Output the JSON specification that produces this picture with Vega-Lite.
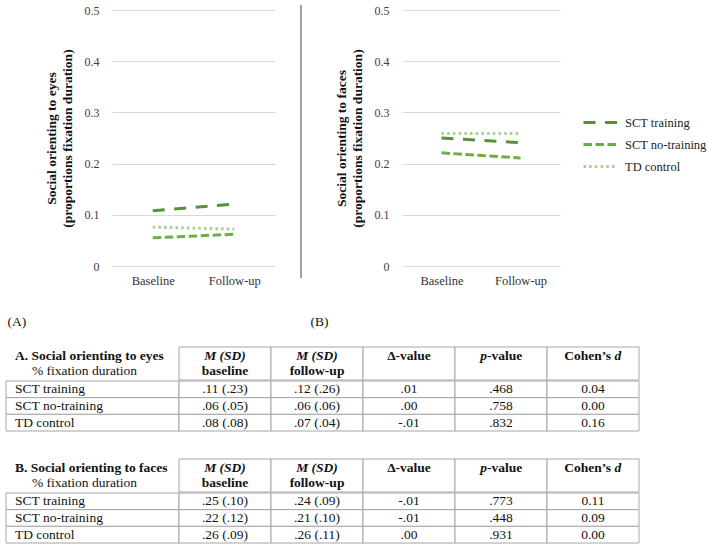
{
  "$schema": "https://vega.github.io/schema/vega-lite/v6.json",
  "padding": {"left": 5, "top": 4, "right": 0, "bottom": 0},
  "background": "white",
  "config": {
    "view": {"stroke": null},
    "font": "Liberation Serif",
    "text": {"font": "Liberation Serif", "fontSize": 13.5, "color": "#111"},
    "axis": {"labelFont": "Liberation Serif", "titleFont": "Liberation Serif"},
    "legend": {"labelFont": "Liberation Serif"}
  },
  "datasets": {
    "lines": [
      {"panel": "eyes", "group": "SCT training", "time": "Baseline", "value": 0.108},
      {"panel": "eyes", "group": "SCT training", "time": "Follow-up", "value": 0.121},
      {"panel": "eyes", "group": "SCT no-training", "time": "Baseline", "value": 0.055},
      {"panel": "eyes", "group": "SCT no-training", "time": "Follow-up", "value": 0.062},
      {"panel": "eyes", "group": "TD control", "time": "Baseline", "value": 0.076},
      {"panel": "eyes", "group": "TD control", "time": "Follow-up", "value": 0.072},
      {"panel": "faces", "group": "SCT training", "time": "Baseline", "value": 0.25},
      {"panel": "faces", "group": "SCT training", "time": "Follow-up", "value": 0.241},
      {"panel": "faces", "group": "SCT no-training", "time": "Baseline", "value": 0.221},
      {"panel": "faces", "group": "SCT no-training", "time": "Follow-up", "value": 0.211},
      {"panel": "faces", "group": "TD control", "time": "Baseline", "value": 0.259},
      {"panel": "faces", "group": "TD control", "time": "Follow-up", "value": 0.259}
    ],
    "hdrLab": [
      {"tbl": "A", "line": "1", "t": "A. Social orienting to eyes"},
      {"tbl": "A", "line": "2", "t": "% fixation duration"},
      {"tbl": "B", "line": "1", "t": "B. Social orienting to faces"},
      {"tbl": "B", "line": "2", "t": "% fixation duration"}
    ],
    "hdr": [
      {"col": "bl", "line": "1", "kind": "it", "a": "M (SD)", "b": ""},
      {"col": "bl", "line": "2", "kind": "b", "a": "baseline", "b": ""},
      {"col": "fu", "line": "1", "kind": "it", "a": "M (SD)", "b": ""},
      {"col": "fu", "line": "2", "kind": "b", "a": "follow-up", "b": ""},
      {"col": "dv", "line": "1", "kind": "b", "a": "Δ-value", "b": ""},
      {"col": "pv", "line": "1", "kind": "pv", "a": "p", "b": "-value"},
      {"col": "cd", "line": "1", "kind": "cd", "a": "Cohen’s", "b": "d"}
    ],
    "cells": [
      {"tbl": "A", "row": "SCT training", "col": "bl", "v": ".11 (.23)"},
      {"tbl": "A", "row": "SCT training", "col": "fu", "v": ".12 (.26)"},
      {"tbl": "A", "row": "SCT training", "col": "dv", "v": ".01"},
      {"tbl": "A", "row": "SCT training", "col": "pv", "v": ".468"},
      {"tbl": "A", "row": "SCT training", "col": "cd", "v": "0.04"},
      {"tbl": "A", "row": "SCT no-training", "col": "bl", "v": ".06 (.05)"},
      {"tbl": "A", "row": "SCT no-training", "col": "fu", "v": ".06 (.06)"},
      {"tbl": "A", "row": "SCT no-training", "col": "dv", "v": ".00"},
      {"tbl": "A", "row": "SCT no-training", "col": "pv", "v": ".758"},
      {"tbl": "A", "row": "SCT no-training", "col": "cd", "v": "0.00"},
      {"tbl": "A", "row": "TD control", "col": "bl", "v": ".08 (.08)"},
      {"tbl": "A", "row": "TD control", "col": "fu", "v": ".07 (.04)"},
      {"tbl": "A", "row": "TD control", "col": "dv", "v": "-.01"},
      {"tbl": "A", "row": "TD control", "col": "pv", "v": ".832"},
      {"tbl": "A", "row": "TD control", "col": "cd", "v": "0.16"},
      {"tbl": "B", "row": "SCT training", "col": "bl", "v": ".25 (.10)"},
      {"tbl": "B", "row": "SCT training", "col": "fu", "v": ".24 (.09)"},
      {"tbl": "B", "row": "SCT training", "col": "dv", "v": "-.01"},
      {"tbl": "B", "row": "SCT training", "col": "pv", "v": ".773"},
      {"tbl": "B", "row": "SCT training", "col": "cd", "v": "0.11"},
      {"tbl": "B", "row": "SCT no-training", "col": "bl", "v": ".22 (.12)"},
      {"tbl": "B", "row": "SCT no-training", "col": "fu", "v": ".21 (.10)"},
      {"tbl": "B", "row": "SCT no-training", "col": "dv", "v": "-.01"},
      {"tbl": "B", "row": "SCT no-training", "col": "pv", "v": ".448"},
      {"tbl": "B", "row": "SCT no-training", "col": "cd", "v": "0.09"},
      {"tbl": "B", "row": "TD control", "col": "bl", "v": ".26 (.09)"},
      {"tbl": "B", "row": "TD control", "col": "fu", "v": ".26 (.11)"},
      {"tbl": "B", "row": "TD control", "col": "dv", "v": ".00"},
      {"tbl": "B", "row": "TD control", "col": "pv", "v": ".931"},
      {"tbl": "B", "row": "TD control", "col": "cd", "v": "0.00"}
    ]
  },
  "bounds": "full",
  "spacing": 18,
  "vconcat": [
    {
      "bounds": "flush",
      "spacing": 26,
      "resolve": {"scale": {"color": "independent", "strokeDash": "independent"}, "legend": {"color": "independent", "strokeDash": "independent"}},
      "hconcat": [
        {
          "width": 80,
          "height": 256,
          "data": {"values": []},
          "mark": "rule",
          "encoding": {}
        },
        {
          "width": 163,
          "height": 256,
          "data": {"name": "lines"},
          "transform": [{"filter": "datum.panel === 'eyes'"}],
          "mark": {"type": "line", "strokeWidth": 3, "strokeCap": "butt"},
          "encoding": {
            "x": {"field": "time", "type": "nominal", "sort": ["Baseline", "Follow-up"],
              "scale": {"type": "point", "padding": 0.5},
              "axis": {"title": "(A)", "titleX": -105, "titleY": 55, "titleAlign": "left", "titleBaseline": "middle",
                "titleFont": "Liberation Serif", "titleFontWeight": "normal", "titleFontSize": 13.5, "titleColor": "#111",
                "labelFont": "Liberation Serif", "labelAngle": 0, "labelFontSize": 12.5, "labelColor": "#333", "labelPadding": 8,
                "domain": false, "ticks": false, "grid": false}},
            "y": {"field": "value", "type": "quantitative",
              "scale": {"domain": [0, 0.5], "nice": false},
              "axis": {"title": ["Social orienting to eyes", "(proportions fixation duration)"],
                "titleFont": "Liberation Serif", "titleFontWeight": "bold", "titleFontSize": 13.5, "titleColor": "#111", "titleLineHeight": 16, "titlePadding": 10,
                "values": [0, 0.1, 0.2, 0.3, 0.4, 0.5], "format": ".1~f",
                "labelFont": "Liberation Serif", "labelFontSize": 12, "labelColor": "#404040", "labelPadding": 13,
                "domain": false, "ticks": false, "tickSize": 0, "grid": true, "gridColor": "#d9d9d9"}},
            "color": {"field": "group", "type": "nominal",
              "scale": {"domain": ["SCT training", "SCT no-training", "TD control"], "range": ["#58903a", "#70ad47", "#a9d18e"]},
              "legend": null},
            "strokeDash": {"field": "group", "type": "nominal",
              "scale": {"domain": ["SCT training", "SCT no-training", "TD control"], "range": [[12, 9.5], [8.5, 3.5], [2.5, 3.2]]},
              "legend": null}
          }
        },
        {
          "width": 75,
          "height": 256,
          "data": {"values": [{"s": 1}]},
          "mark": {"type": "rule", "color": "#404040", "strokeWidth": 1},
          "encoding": {
            "x": {"datum": 0, "type": "quantitative", "scale": {"domain": [0, 1]}, "axis": null},
            "y": {"datum": 1.02, "type": "quantitative", "scale": {"domain": [0, 1], "nice": false, "zero": false}, "axis": null},
            "y2": {"datum": -0.047}
          }
        },
        {
          "width": 158,
          "height": 256,
          "data": {"name": "lines"},
          "transform": [{"filter": "datum.panel === 'faces'"}],
          "mark": {"type": "line", "strokeWidth": 3, "strokeCap": "butt"},
          "encoding": {
            "x": {"field": "time", "type": "nominal", "sort": ["Baseline", "Follow-up"],
              "scale": {"type": "point", "padding": 0.5},
              "axis": {"title": "(B)", "titleX": -92, "titleY": 55, "titleAlign": "left", "titleBaseline": "middle",
                "titleFont": "Liberation Serif", "titleFontWeight": "normal", "titleFontSize": 13.5, "titleColor": "#111",
                "labelFont": "Liberation Serif", "labelAngle": 0, "labelFontSize": 12.5, "labelColor": "#333", "labelPadding": 8,
                "domain": false, "ticks": false, "grid": false}},
            "y": {"field": "value", "type": "quantitative",
              "scale": {"domain": [0, 0.5], "nice": false},
              "axis": {"title": ["Social orienting to faces", "(proportions fixation duration)"],
                "titleFont": "Liberation Serif", "titleFontWeight": "bold", "titleFontSize": 13.5, "titleColor": "#111", "titleLineHeight": 16, "titlePadding": 10,
                "values": [0, 0.1, 0.2, 0.3, 0.4, 0.5], "format": ".1~f",
                "labelFont": "Liberation Serif", "labelFontSize": 12, "labelColor": "#404040", "labelPadding": 13,
                "domain": false, "ticks": false, "tickSize": 0, "grid": true, "gridColor": "#d9d9d9"}},
            "color": {"field": "group", "type": "nominal",
              "scale": {"domain": ["SCT training", "SCT no-training", "TD control"], "range": ["#58903a", "#70ad47", "#a9d18e"]},
              "legend": {"title": null, "orient": "none", "legendX": 180, "legendY": 101.5, "symbolType": "stroke",
                "symbolSize": 1156, "symbolStrokeWidth": 3, "labelFont": "Liberation Serif", "labelFontSize": 12.5, "labelColor": "#222",
                "labelOffset": 6, "rowPadding": 0, "clipHeight": 22, "padding": 0}},
            "strokeDash": {"field": "group", "type": "nominal",
              "scale": {"domain": ["SCT training", "SCT no-training", "TD control"], "range": [[12, 9.5], [8.5, 3.5], [2.5, 3.2]]},
              "legend": {"title": null, "orient": "none", "legendX": 180, "legendY": 101.5, "symbolType": "stroke",
                "symbolSize": 1156, "symbolStrokeWidth": 3, "labelFont": "Liberation Serif", "labelFontSize": 12.5, "labelColor": "#222",
                "labelOffset": 6, "rowPadding": 0, "clipHeight": 22, "padding": 0}}
          }
        }
      ]
    },
    {
      "bounds": "full",
      "spacing": 26,
      "vconcat": [
        {
          "bounds": "full",
          "spacing": -1,
          "vconcat": [
            {
              "bounds": "flush",
              "spacing": 0,
              "hconcat": [
                {
                  "width": 173, "height": 33,
                  "data": {"name": "hdrLab"},
                  "transform": [{"filter": "datum.tbl === 'A'"}],
                  "layer": [
                    {"transform": [{"filter": "datum.line === '1'"}],
                      "mark": {"type": "text", "font": "Liberation Serif", "align": "left", "fontWeight": "bold", "fontSize": 13.5, "dx": 9},
                      "encoding": {
                        "x": {"datum": "c", "type": "nominal", "bandPosition": 0, "scale": {"type": "band", "paddingInner": 0, "paddingOuter": 0}, "axis": null},
                        "y": {"field": "line", "type": "nominal", "scale": {"type": "band", "domain": ["1", "2"], "paddingInner": 0, "paddingOuter": 0.1}, "axis": null},
                        "text": {"field": "t"}}},
                    {"transform": [{"filter": "datum.line === '2'"}],
                      "mark": {"type": "text", "font": "Liberation Serif", "align": "left", "fontSize": 13.5, "dx": 26},
                      "encoding": {
                        "x": {"datum": "c", "type": "nominal", "bandPosition": 0, "scale": {"type": "band", "paddingInner": 0, "paddingOuter": 0}, "axis": null},
                        "y": {"field": "line", "type": "nominal", "scale": {"type": "band", "domain": ["1", "2"], "paddingInner": 0, "paddingOuter": 0.1}, "axis": null},
                        "text": {"field": "t"}}}
                  ]
                },
                {
                  "width": 460, "height": 33,
                  "data": {"name": "hdr"},
                  "encoding": {
                    "x": {"field": "col", "type": "nominal", "sort": ["bl", "fu", "dv", "pv", "cd"], "scale": {"type": "band", "paddingInner": 0, "paddingOuter": 0}, "axis": null}
                  },
                  "layer": [
                    {"transform": [{"filter": "datum.line === '1'"}],
                      "mark": {"type": "rect", "fill": "white", "stroke": "#a6a6a6", "strokeWidth": 1}},
                    {"transform": [{"filter": "datum.kind === 'it'"}],
                      "mark": {"type": "text", "font": "Liberation Serif", "fontWeight": "bold", "fontStyle": "italic", "fontSize": 13.5},
                      "encoding": {
                        "y": {"field": "line", "type": "nominal", "scale": {"type": "band", "domain": ["1", "2"], "paddingInner": 0, "paddingOuter": 0.1}, "axis": null},
                        "text": {"field": "a"}}},
                    {"transform": [{"filter": "datum.kind === 'b'"}],
                      "mark": {"type": "text", "font": "Liberation Serif", "fontWeight": "bold", "fontSize": 13.5},
                      "encoding": {
                        "y": {"field": "line", "type": "nominal", "scale": {"type": "band", "domain": ["1", "2"], "paddingInner": 0, "paddingOuter": 0.1}, "axis": null},
                        "text": {"field": "a"}}},
                    {"transform": [{"filter": "datum.kind === 'pv'"}],
                      "mark": {"type": "text", "font": "Liberation Serif", "fontWeight": "bold", "fontStyle": "italic", "fontSize": 13.5, "align": "right", "dx": -14},
                      "encoding": {
                        "y": {"field": "line", "type": "nominal", "scale": {"type": "band", "domain": ["1", "2"], "paddingInner": 0, "paddingOuter": 0.1}, "axis": null},
                        "text": {"field": "a"}}},
                    {"transform": [{"filter": "datum.kind === 'pv'"}],
                      "mark": {"type": "text", "font": "Liberation Serif", "fontWeight": "bold", "fontSize": 13.5, "align": "left", "dx": -14},
                      "encoding": {
                        "y": {"field": "line", "type": "nominal", "scale": {"type": "band", "domain": ["1", "2"], "paddingInner": 0, "paddingOuter": 0.1}, "axis": null},
                        "text": {"field": "b"}}},
                    {"transform": [{"filter": "datum.kind === 'cd'"}],
                      "mark": {"type": "text", "font": "Liberation Serif", "fontWeight": "bold", "fontSize": 13.5, "align": "right", "dx": 18},
                      "encoding": {
                        "y": {"field": "line", "type": "nominal", "scale": {"type": "band", "domain": ["1", "2"], "paddingInner": 0, "paddingOuter": 0.1}, "axis": null},
                        "text": {"field": "a"}}},
                    {"transform": [{"filter": "datum.kind === 'cd'"}],
                      "mark": {"type": "text", "font": "Liberation Serif", "fontWeight": "bold", "fontStyle": "italic", "fontSize": 13.5, "align": "left", "dx": 21.5},
                      "encoding": {
                        "y": {"field": "line", "type": "nominal", "scale": {"type": "band", "domain": ["1", "2"], "paddingInner": 0, "paddingOuter": 0.1}, "axis": null},
                        "text": {"field": "b"}}}
                  ]
                }
              ]
            },
            {
              "bounds": "flush",
              "spacing": 0,
              "hconcat": [
                {
                  "width": 173, "height": 50,
                  "data": {"name": "cells"},
                  "transform": [{"filter": "datum.tbl === 'A' && datum.col === 'bl'"}],
                  "layer": [
                    {"mark": {"type": "rect", "fill": "white", "stroke": "#a6a6a6", "strokeWidth": 1},
                      "encoding": {
                        "y": {"field": "row", "type": "nominal", "sort": ["SCT training", "SCT no-training", "TD control"], "scale": {"type": "band", "paddingInner": 0, "paddingOuter": 0}, "axis": null}}},
                    {"mark": {"type": "text", "font": "Liberation Serif", "align": "left", "fontSize": 13.5, "dx": 9},
                      "encoding": {
                        "x": {"datum": "c", "type": "nominal", "bandPosition": 0, "scale": {"type": "band", "paddingInner": 0, "paddingOuter": 0}, "axis": null},
                        "y": {"field": "row", "type": "nominal", "sort": ["SCT training", "SCT no-training", "TD control"], "scale": {"type": "band", "paddingInner": 0, "paddingOuter": 0}, "axis": null},
                        "text": {"field": "row"}}}
                  ]
                },
                {
                  "width": 460, "height": 50,
                  "data": {"name": "cells"},
                  "transform": [{"filter": "datum.tbl === 'A'"}],
                  "layer": [
                    {"mark": {"type": "rect", "fill": "white", "stroke": "#a6a6a6", "strokeWidth": 1},
                      "encoding": {
                        "x": {"field": "col", "type": "nominal", "sort": ["bl", "fu", "dv", "pv", "cd"], "scale": {"type": "band", "paddingInner": 0, "paddingOuter": 0}, "axis": null},
                        "y": {"field": "row", "type": "nominal", "sort": ["SCT training", "SCT no-training", "TD control"], "scale": {"type": "band", "paddingInner": 0, "paddingOuter": 0}, "axis": null}}},
                    {"mark": {"type": "text", "font": "Liberation Serif", "fontSize": 13.5},
                      "encoding": {
                        "x": {"field": "col", "type": "nominal", "sort": ["bl", "fu", "dv", "pv", "cd"], "scale": {"type": "band", "paddingInner": 0, "paddingOuter": 0}, "axis": null},
                        "y": {"field": "row", "type": "nominal", "sort": ["SCT training", "SCT no-training", "TD control"], "scale": {"type": "band", "paddingInner": 0, "paddingOuter": 0}, "axis": null},
                        "text": {"field": "v"}}}
                  ]
                }
              ]
            }
          ]
        },
        {
          "bounds": "full",
          "spacing": -1,
          "vconcat": [
            {
              "bounds": "flush",
              "spacing": 0,
              "hconcat": [
                {
                  "width": 173, "height": 33,
                  "data": {"name": "hdrLab"},
                  "transform": [{"filter": "datum.tbl === 'B'"}],
                  "layer": [
                    {"transform": [{"filter": "datum.line === '1'"}],
                      "mark": {"type": "text", "font": "Liberation Serif", "align": "left", "fontWeight": "bold", "fontSize": 13.5, "dx": 9},
                      "encoding": {
                        "x": {"datum": "c", "type": "nominal", "bandPosition": 0, "scale": {"type": "band", "paddingInner": 0, "paddingOuter": 0}, "axis": null},
                        "y": {"field": "line", "type": "nominal", "scale": {"type": "band", "domain": ["1", "2"], "paddingInner": 0, "paddingOuter": 0.1}, "axis": null},
                        "text": {"field": "t"}}},
                    {"transform": [{"filter": "datum.line === '2'"}],
                      "mark": {"type": "text", "font": "Liberation Serif", "align": "left", "fontSize": 13.5, "dx": 26},
                      "encoding": {
                        "x": {"datum": "c", "type": "nominal", "bandPosition": 0, "scale": {"type": "band", "paddingInner": 0, "paddingOuter": 0}, "axis": null},
                        "y": {"field": "line", "type": "nominal", "scale": {"type": "band", "domain": ["1", "2"], "paddingInner": 0, "paddingOuter": 0.1}, "axis": null},
                        "text": {"field": "t"}}}
                  ]
                },
                {
                  "width": 460, "height": 33,
                  "data": {"name": "hdr"},
                  "encoding": {
                    "x": {"field": "col", "type": "nominal", "sort": ["bl", "fu", "dv", "pv", "cd"], "scale": {"type": "band", "paddingInner": 0, "paddingOuter": 0}, "axis": null}
                  },
                  "layer": [
                    {"transform": [{"filter": "datum.line === '1'"}],
                      "mark": {"type": "rect", "fill": "white", "stroke": "#a6a6a6", "strokeWidth": 1}},
                    {"transform": [{"filter": "datum.kind === 'it'"}],
                      "mark": {"type": "text", "font": "Liberation Serif", "fontWeight": "bold", "fontStyle": "italic", "fontSize": 13.5},
                      "encoding": {
                        "y": {"field": "line", "type": "nominal", "scale": {"type": "band", "domain": ["1", "2"], "paddingInner": 0, "paddingOuter": 0.1}, "axis": null},
                        "text": {"field": "a"}}},
                    {"transform": [{"filter": "datum.kind === 'b'"}],
                      "mark": {"type": "text", "font": "Liberation Serif", "fontWeight": "bold", "fontSize": 13.5},
                      "encoding": {
                        "y": {"field": "line", "type": "nominal", "scale": {"type": "band", "domain": ["1", "2"], "paddingInner": 0, "paddingOuter": 0.1}, "axis": null},
                        "text": {"field": "a"}}},
                    {"transform": [{"filter": "datum.kind === 'pv'"}],
                      "mark": {"type": "text", "font": "Liberation Serif", "fontWeight": "bold", "fontStyle": "italic", "fontSize": 13.5, "align": "right", "dx": -14},
                      "encoding": {
                        "y": {"field": "line", "type": "nominal", "scale": {"type": "band", "domain": ["1", "2"], "paddingInner": 0, "paddingOuter": 0.1}, "axis": null},
                        "text": {"field": "a"}}},
                    {"transform": [{"filter": "datum.kind === 'pv'"}],
                      "mark": {"type": "text", "font": "Liberation Serif", "fontWeight": "bold", "fontSize": 13.5, "align": "left", "dx": -14},
                      "encoding": {
                        "y": {"field": "line", "type": "nominal", "scale": {"type": "band", "domain": ["1", "2"], "paddingInner": 0, "paddingOuter": 0.1}, "axis": null},
                        "text": {"field": "b"}}},
                    {"transform": [{"filter": "datum.kind === 'cd'"}],
                      "mark": {"type": "text", "font": "Liberation Serif", "fontWeight": "bold", "fontSize": 13.5, "align": "right", "dx": 18},
                      "encoding": {
                        "y": {"field": "line", "type": "nominal", "scale": {"type": "band", "domain": ["1", "2"], "paddingInner": 0, "paddingOuter": 0.1}, "axis": null},
                        "text": {"field": "a"}}},
                    {"transform": [{"filter": "datum.kind === 'cd'"}],
                      "mark": {"type": "text", "font": "Liberation Serif", "fontWeight": "bold", "fontStyle": "italic", "fontSize": 13.5, "align": "left", "dx": 21.5},
                      "encoding": {
                        "y": {"field": "line", "type": "nominal", "scale": {"type": "band", "domain": ["1", "2"], "paddingInner": 0, "paddingOuter": 0.1}, "axis": null},
                        "text": {"field": "b"}}}
                  ]
                }
              ]
            },
            {
              "bounds": "flush",
              "spacing": 0,
              "hconcat": [
                {
                  "width": 173, "height": 50,
                  "data": {"name": "cells"},
                  "transform": [{"filter": "datum.tbl === 'B' && datum.col === 'bl'"}],
                  "layer": [
                    {"mark": {"type": "rect", "fill": "white", "stroke": "#a6a6a6", "strokeWidth": 1},
                      "encoding": {
                        "y": {"field": "row", "type": "nominal", "sort": ["SCT training", "SCT no-training", "TD control"], "scale": {"type": "band", "paddingInner": 0, "paddingOuter": 0}, "axis": null}}},
                    {"mark": {"type": "text", "font": "Liberation Serif", "align": "left", "fontSize": 13.5, "dx": 9},
                      "encoding": {
                        "x": {"datum": "c", "type": "nominal", "bandPosition": 0, "scale": {"type": "band", "paddingInner": 0, "paddingOuter": 0}, "axis": null},
                        "y": {"field": "row", "type": "nominal", "sort": ["SCT training", "SCT no-training", "TD control"], "scale": {"type": "band", "paddingInner": 0, "paddingOuter": 0}, "axis": null},
                        "text": {"field": "row"}}}
                  ]
                },
                {
                  "width": 460, "height": 50,
                  "data": {"name": "cells"},
                  "transform": [{"filter": "datum.tbl === 'B'"}],
                  "layer": [
                    {"mark": {"type": "rect", "fill": "white", "stroke": "#a6a6a6", "strokeWidth": 1},
                      "encoding": {
                        "x": {"field": "col", "type": "nominal", "sort": ["bl", "fu", "dv", "pv", "cd"], "scale": {"type": "band", "paddingInner": 0, "paddingOuter": 0}, "axis": null},
                        "y": {"field": "row", "type": "nominal", "sort": ["SCT training", "SCT no-training", "TD control"], "scale": {"type": "band", "paddingInner": 0, "paddingOuter": 0}, "axis": null}}},
                    {"mark": {"type": "text", "font": "Liberation Serif", "fontSize": 13.5},
                      "encoding": {
                        "x": {"field": "col", "type": "nominal", "sort": ["bl", "fu", "dv", "pv", "cd"], "scale": {"type": "band", "paddingInner": 0, "paddingOuter": 0}, "axis": null},
                        "y": {"field": "row", "type": "nominal", "sort": ["SCT training", "SCT no-training", "TD control"], "scale": {"type": "band", "paddingInner": 0, "paddingOuter": 0}, "axis": null},
                        "text": {"field": "v"}}}
                  ]
                }
              ]
            }
          ]
        }
      ]
    }
  ]
}
